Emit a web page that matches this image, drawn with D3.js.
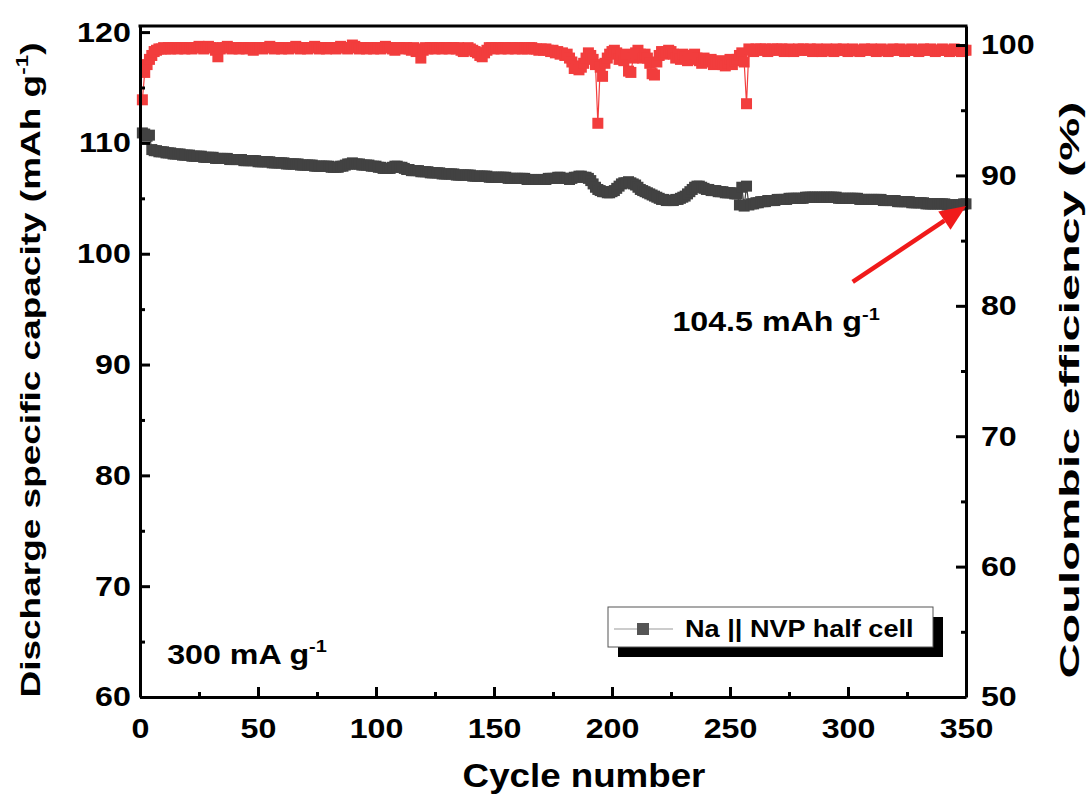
<!DOCTYPE html>
<html>
<head>
<meta charset="utf-8">
<script src="https://cdn.jsdelivr.net/npm/d3@7"></script>
<style>
body { margin: 0; background: #fff; }
svg { display: block; font-family: "Liberation Sans", Arial, sans-serif; font-weight: bold; }
</style>
</head>
<body>
<div id="chart"></div>
<script>
// discharge capacity (mAh g-1), cycle 1..350
const capacity = [
110.9,110.8,110.6,110.7,109.4,109.3,109.3,109.2,109.2,109.2,
109.1,109.1,109.1,109.0,109.0,109.0,109.0,108.9,108.9,108.9,
108.9,108.8,108.8,108.8,108.8,108.8,108.7,108.7,108.7,108.7,
108.7,108.6,108.6,108.6,108.6,108.6,108.6,108.5,108.5,108.5,
108.5,108.5,108.5,108.4,108.4,108.4,108.4,108.4,108.4,108.3,
108.3,108.3,108.3,108.3,108.3,108.2,108.2,108.2,108.2,108.2,
108.2,108.1,108.1,108.1,108.1,108.1,108.1,108.0,108.0,108.0,
108.0,108.0,108.0,107.9,107.9,107.9,107.9,107.9,107.9,107.9,
107.8,107.8,107.8,107.8,107.9,107.9,108.0,108.1,108.1,108.2,
108.1,108.1,108.1,108.0,108.0,108.0,108.0,107.9,107.9,107.9,
107.8,107.8,107.7,107.7,107.7,107.7,107.8,107.9,107.9,107.8,
107.8,107.7,107.6,107.6,107.5,107.5,107.5,107.5,107.4,107.4,
107.4,107.4,107.3,107.3,107.3,107.3,107.3,107.2,107.2,107.2,
107.2,107.2,107.2,107.1,107.1,107.1,107.1,107.1,107.1,107.1,
107.0,107.0,107.0,107.0,107.0,107.0,107.0,106.9,106.9,106.9,
106.9,106.9,106.9,106.9,106.9,106.8,106.8,106.8,106.8,106.8,
106.8,106.8,106.8,106.7,106.7,106.7,106.7,106.7,106.7,106.7,
106.7,106.7,106.8,106.8,106.8,106.8,106.9,106.9,106.8,106.8,
106.8,106.7,106.8,106.9,106.9,107.0,107.0,106.9,106.9,106.8,
106.6,106.3,106.0,105.8,105.7,105.6,105.6,105.5,105.5,105.6,
105.7,105.9,106.1,106.3,106.4,106.4,106.5,106.4,106.3,106.2,
106.0,105.8,105.7,105.6,105.5,105.4,105.3,105.2,105.1,105.0,
104.9,104.9,104.8,104.8,104.8,104.8,104.9,104.9,105.0,105.1,
105.2,105.4,105.6,105.8,106.0,106.1,106.1,106.0,105.9,105.8,
105.8,105.7,105.7,105.7,105.6,105.6,105.6,105.5,105.5,105.5,
105.5,105.4,105.4,104.4,106.0,104.3,106.1,104.4,104.5,104.5,
104.6,104.6,104.7,104.7,104.7,104.8,104.8,104.8,104.8,104.9,
104.9,104.9,104.9,104.9,105.0,105.0,105.0,105.0,105.0,105.0,
105.0,105.1,105.1,105.1,105.1,105.1,105.1,105.1,105.1,105.1,
105.1,105.1,105.1,105.1,105.1,105.0,105.0,105.0,105.0,105.0,
105.0,105.0,105.0,105.0,104.9,104.9,104.9,104.9,104.9,104.9,
104.9,104.9,104.9,104.9,104.8,104.8,104.8,104.8,104.8,104.8,
104.7,104.7,104.7,104.7,104.7,104.7,104.6,104.6,104.6,104.6,
104.6,104.6,104.5,104.5,104.5,104.5,104.5,104.5,104.5,104.5,
104.5,104.4,104.4,104.4,104.4,104.4,104.4,104.4,104.5,104.5
];

// coulombic efficiency (%), cycle 1..350
const efficiency = [
95.8,97.9,98.5,98.9,99.2,99.5,99.6,99.7,99.7,99.8,
99.7,99.8,99.7,99.8,99.8,99.7,99.8,99.8,99.7,99.8,
99.8,99.7,99.8,99.8,99.9,99.8,99.7,99.8,99.9,99.8,
99.8,99.6,99.1,99.7,99.8,99.8,99.9,99.8,99.7,99.8,
99.8,99.7,99.8,99.8,99.7,99.8,99.8,99.6,99.8,99.8,
99.8,99.7,99.8,99.8,99.9,99.8,99.7,99.8,99.8,99.7,
99.8,99.8,99.7,99.8,99.8,99.9,99.8,99.7,99.8,99.8,
99.7,99.8,99.8,99.9,99.8,99.7,99.8,99.8,99.7,99.8,
99.8,99.8,99.7,99.8,99.9,99.8,99.8,99.7,99.8,100.0,
99.9,99.8,99.7,99.8,99.8,99.7,99.8,99.8,99.7,99.8,
99.8,99.7,99.8,99.9,99.8,99.8,99.7,99.6,99.8,99.8,
99.7,99.8,99.8,99.7,99.6,99.8,99.5,99.7,99.0,99.6,
99.8,99.7,99.8,99.8,99.7,99.8,99.8,99.7,99.8,99.8,
99.7,99.8,99.8,99.7,99.8,99.6,99.5,99.7,99.8,99.7,
99.6,99.5,99.4,99.2,99.1,99.4,99.6,99.8,99.8,99.7,
99.8,99.8,99.7,99.8,99.8,99.7,99.8,99.8,99.7,99.8,
99.8,99.7,99.8,99.7,99.8,99.8,99.7,99.7,99.6,99.7,
99.6,99.7,99.6,99.5,99.6,99.4,99.5,99.3,99.4,99.2,
99.3,99.0,98.7,98.2,98.4,98.1,98.3,98.6,99.0,99.4,
99.2,98.9,98.5,94.0,98.3,97.6,98.6,99.0,99.3,99.5,
99.6,99.4,98.9,99.2,98.8,99.3,98.0,97.9,99.0,99.4,
99.6,99.3,99.0,99.3,99.0,98.6,97.8,97.7,98.7,99.2,
99.5,99.3,99.5,99.6,99.5,99.3,99.0,99.2,98.9,99.3,
99.1,98.8,99.2,98.9,99.3,99.0,98.8,98.6,99.0,98.8,
98.7,98.9,98.5,98.7,98.6,98.8,98.5,98.4,98.6,98.9,
98.5,98.8,98.9,99.2,99.4,98.7,95.5,99.7,99.6,99.5,
99.7,99.6,99.7,99.6,99.7,99.5,99.6,99.7,99.6,99.7,
99.6,99.7,99.5,99.6,99.7,99.6,99.5,99.6,99.7,99.6,
99.7,99.6,99.6,99.7,99.5,99.6,99.7,99.6,99.5,99.6,
99.7,99.6,99.6,99.5,99.7,99.6,99.6,99.7,99.6,99.5,
99.6,99.7,99.6,99.6,99.5,99.6,99.7,99.6,99.6,99.7,
99.6,99.5,99.6,99.7,99.6,99.6,99.5,99.6,99.7,99.6,
99.6,99.7,99.6,99.5,99.6,99.6,99.7,99.6,99.6,99.5,
99.6,99.7,99.6,99.6,99.7,99.6,99.5,99.6,99.6,99.7,
99.6,99.6,99.5,99.6,99.7,99.6,99.6,99.5,99.6,99.6
];

const xTicks = [0, 50, 100, 150, 200, 250, 300, 350];
const xMinor = [25, 75, 125, 175, 225, 275, 325];
const capTicks = [60, 70, 80, 90, 100, 110, 120];
const capMinor = [65, 75, 85, 95, 105, 115];
const ceTicks = [50, 60, 70, 80, 90, 100];
const ceMinor = [55, 65, 75, 85, 95];

const width = 1088, height = 798;
const plotLeft = 140, plotRight = 966, plotTop = 26, plotBottom = 697;
const sx = 1.15; // the figure is drawn a little wide

const red = "#f23d3d", grey = "#424242";

const svg = d3.select("#chart").append("svg")
  .attr("width", width).attr("height", height);

const x = d3.scaleLinear().domain([0, 350]).range([plotLeft, plotRight]);
const yCap = d3.scaleLinear().domain([60, 120.55]).range([plotBottom, plotTop]);
const yCE = d3.scaleLinear().domain([50, 101.46]).range([plotBottom, plotTop]);

const capData = capacity.map((v, i) => ({ c: i + 1, v: v }));
const ceData = efficiency.map((v, i) => ({ c: i + 1, v: v }));

// series
function drawSeries(data, yScale, color, w, h) {
  const g = svg.append("g");
  g.append("path")
    .datum(data)
    .attr("fill", "none")
    .attr("stroke", color)
    .attr("stroke-width", 1.2)
    .attr("d", d3.line().x(d => x(d.c)).y(d => yScale(d.v)));
  g.selectAll("rect")
    .data(data)
    .enter()
    .append("rect")
      .attr("x", d => x(d.c) - w / 2)
      .attr("y", d => yScale(d.v) - h / 2)
      .attr("width", w)
      .attr("height", h)
      .attr("fill", color);
}
drawSeries(ceData, yCE, red, 11, 11);
drawSeries(capData, yCap, grey, 11, 11);

// axes
function styleAxis(g) {
  g.selectAll(".domain").attr("stroke", "#000").attr("stroke-width", 3);
  g.selectAll(".tick line").attr("stroke", "#000").attr("stroke-width", 3);
  g.selectAll(".tick text").attr("font-size", 28).attr("font-weight", "bold")
    .attr("font-family", "'Liberation Sans', Arial, sans-serif").attr("fill", "#000");
}

const gx = svg.append("g").attr("transform", `translate(0,${plotBottom})`)
  .call(d3.axisBottom(x).tickValues(xTicks).tickSizeInner(-10).tickSizeOuter(0).tickPadding(21));
styleAxis(gx);
gx.selectAll(".tick text").attr("transform", `scale(${sx},1)`);
const gxm = svg.append("g").attr("transform", `translate(0,${plotBottom})`)
  .call(d3.axisBottom(x).tickValues(xMinor).tickSize(-5).tickFormat(""));
styleAxis(gxm);
gxm.select(".domain").remove();

const gl = svg.append("g").attr("transform", `translate(${plotLeft},0)`)
  .call(d3.axisLeft(yCap).tickValues(capTicks).tickSizeInner(-10).tickSizeOuter(0).tickPadding(8));
styleAxis(gl);
gl.selectAll(".tick text").attr("transform", `scale(${sx},1)`);
const glm = svg.append("g").attr("transform", `translate(${plotLeft},0)`)
  .call(d3.axisLeft(yCap).tickValues(capMinor).tickSize(-5).tickFormat(""));
styleAxis(glm);
glm.select(".domain").remove();

const gr = svg.append("g").attr("transform", `translate(${plotRight},0)`)
  .call(d3.axisRight(yCE).tickValues(ceTicks).tickSizeInner(-10).tickSizeOuter(0).tickPadding(13));
styleAxis(gr);
gr.selectAll(".tick text").attr("transform", `scale(${sx},1)`);
const grm = svg.append("g").attr("transform", `translate(${plotRight},0)`)
  .call(d3.axisRight(yCE).tickValues(ceMinor).tickSize(-5).tickFormat(""));
styleAxis(grm);
grm.select(".domain").remove();

// top frame line
svg.append("line")
  .attr("x1", plotLeft - 1.5).attr("x2", plotRight + 1.5)
  .attr("y1", plotTop).attr("y2", plotTop)
  .attr("stroke", "#000").attr("stroke-width", 3);

// axis titles
svg.append("text")
  .attr("transform", `translate(584,787) scale(1.08,1)`)
  .attr("text-anchor", "middle")
  .attr("font-size", 34)
  .text("Cycle number");

const lt = svg.append("text")
  .attr("transform", `translate(40,370) rotate(-90)`)
  .attr("text-anchor", "middle")
  .attr("font-size", 28)
  .attr("textLength", 655).attr("lengthAdjust", "spacingAndGlyphs");
lt.append("tspan").text("Discharge specific capacity (mAh g");
lt.append("tspan").attr("font-size", 17).attr("dy", -12).text("-1");
lt.append("tspan").attr("dy", 12).text(")");

svg.append("text")
  .attr("transform", `translate(1079,390) rotate(-90)`)
  .attr("text-anchor", "middle")
  .attr("font-size", 28)
  .attr("textLength", 577).attr("lengthAdjust", "spacingAndGlyphs")
  .text("Coulombic efficiency (%)");

// annotations
function supLabel(px, py, main, size) {
  const t = svg.append("text")
    .attr("transform", `translate(${px},${py}) scale(${sx},1)`)
    .attr("font-size", size);
  t.append("tspan").text(main);
  t.append("tspan").attr("font-size", size * 0.62).attr("dy", -size * 0.42).text("-1");
}
supLabel(x(11.5), yCap(63.0), "300 mA g", 28);
supLabel(x(225.6), yCap(93.0), "104.5 mAh g", 28);

// arrow to the last point
const ax1 = x(302), ay1 = yCap(97.45), ax2 = x(350), ay2 = yCap(104.3);
const ang = Math.atan2(ay2 - ay1, ax2 - ax1);
const headLen = 26, headW = 11;
const bx = ax2 - headLen * Math.cos(ang), by = ay2 - headLen * Math.sin(ang);
svg.append("line")
  .attr("x1", ax1).attr("y1", ay1).attr("x2", bx).attr("y2", by)
  .attr("stroke", "#f01a1a").attr("stroke-width", 4.5);
svg.append("path")
  .attr("d", `M${ax2},${ay2} L${bx + headW * Math.sin(ang)},${by - headW * Math.cos(ang)} L${bx - headW * Math.sin(ang)},${by + headW * Math.cos(ang)} Z`)
  .attr("fill", "#f01a1a");

// legend
const lg = svg.append("g");
lg.append("rect").attr("x", 618).attr("y", 617).attr("width", 325).attr("height", 40).attr("fill", "#000");
lg.append("rect").attr("x", 608).attr("y", 607).attr("width", 325).attr("height", 40)
  .attr("fill", "#fff").attr("stroke", "#555").attr("stroke-width", 1);
lg.append("line").attr("x1", 614).attr("x2", 673).attr("y1", 629).attr("y2", 629)
  .attr("stroke", "#999").attr("stroke-width", 1.2);
lg.append("rect").attr("x", 637).attr("y", 623).attr("width", 12).attr("height", 12).attr("fill", "#555");
lg.append("text")
  .attr("transform", `translate(685,637) scale(1.13,1)`)
  .attr("font-size", 24)
  .text("Na || NVP half cell");
</script>
</body>
</html>
